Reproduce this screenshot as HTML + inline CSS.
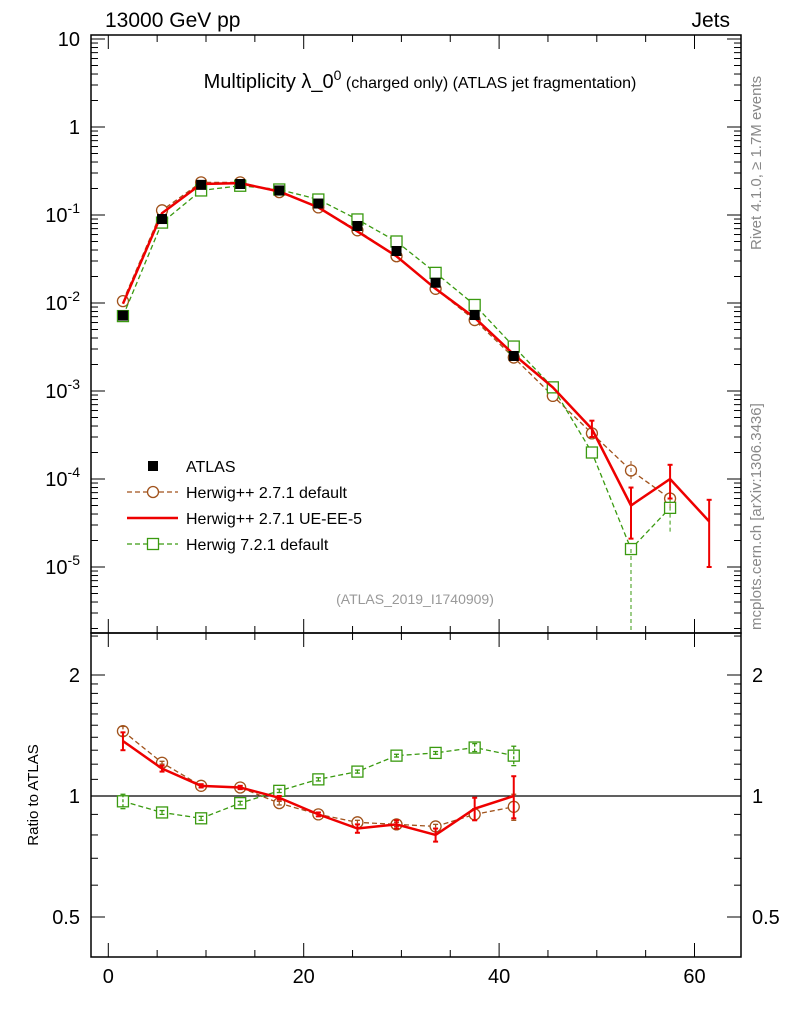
<!DOCTYPE html>
<html><head><meta charset="utf-8">
<style>
body{margin:0;background:#fff;}
svg{display:block;font-family:"Liberation Sans",sans-serif;}
</style></head>
<body>
<svg id="c" width="786" height="1024" xmlns="http://www.w3.org/2000/svg">
<text x="105" y="27" font-size="21">13000 GeV pp</text>
<text x="730" y="27" font-size="21" text-anchor="end">Jets</text>
<text x="420" y="88" font-size="20" text-anchor="middle">Multiplicity λ_0<tspan dy="-8" font-size="14">0</tspan><tspan dy="8" font-size="16"> (charged only) (ATLAS jet fragmentation)</tspan></text>
<text transform="translate(761,250) rotate(-90)" font-size="15" fill="#888">Rivet 4.1.0, ≥ 1.7M events</text>
<text transform="translate(761,630) rotate(-90)" font-size="15" fill="#888">mcplots.cern.ch [arXiv:1306.3436]</text>
<text x="415" y="604" font-size="14" fill="#999" text-anchor="middle">(ATLAS_2019_I1740909)</text>
<text transform="translate(38,795) rotate(-90)" font-size="15" text-anchor="middle">Ratio to ATLAS</text>
<g id="g"></g>
</svg>
<script>
const xs=[1.5,5.5,9.5,13.5,17.5,21.5,25.5,29.5,33.5,37.5,41.5,45.5,49.5,53.5,57.5,61.5];
const atlas=[0.0072,0.09,0.22,0.225,0.19,0.135,0.075,0.039,0.017,0.0073,0.0025];
const brown=[0.0105,0.113,0.235,0.235,0.182,0.122,0.067,0.034,0.0145,0.0064,0.0024,0.00088,0.00033,0.000125,0.00006];
const red=[0.0098,0.105,0.225,0.23,0.185,0.122,0.065,0.034,0.0145,0.0068,0.0026,0.0011,0.00037,0.00005,0.0001,0.000033];
const green=[0.0071,0.082,0.19,0.215,0.195,0.15,0.089,0.05,0.022,0.0095,0.0032,0.0011,0.0002,0.000016,0.000047];
const brownR=[1.45,1.21,1.06,1.05,0.96,0.90,0.86,0.85,0.84,0.90,0.94];
const redR=[1.37,1.17,1.06,1.05,0.99,0.90,0.83,0.85,0.80,0.93,1.0];
const greenR=[0.97,0.91,0.88,0.96,1.03,1.10,1.15,1.26,1.28,1.32,1.26];
const redRerr=[0.07,0.02,0.01,0.01,0.01,0.01,0.02,0.02,0.03,0.06,0.12];
const greenRerr=[0.04,0.01,0.01,0.01,0.01,0.01,0.01,0.01,0.01,0.03,0.07];
const xTicks=[0,20,40,60];
const yTicks=["10^-5","10^-4","10^-3","10^-2","10^-1","1","10"];
const rTicks=[0.5,1,2];

const NS="http://www.w3.org/2000/svg",G=document.getElementById('g');
function el(t,a,p){const e=document.createElementNS(NS,t);for(const k in a)e.setAttribute(k,a[k]);(p||G).appendChild(e);return e;}
const L=91,R=741,T=35,M=633,B=957;
const X=v=>108.3+9.77*v;
const Y=v=>303-88*(Math.log10(v)+2);
const YR=v=>796-121*Math.log2(v);
let f=el('rect',{x:L,y:T,width:R-L,height:M-T,fill:'none',stroke:'#000','stroke-width':1.5});

f=el('rect',{x:L,y:M,width:R-L,height:B-M,fill:'none',stroke:'#000','stroke-width':1.5});

for(let v=0;v<=70;v+=5){const x=X(v);if(x>R)break;const len=v%20==0?14:7;
 el('line',{x1:x,x2:x,y1:M,y2:M-len,stroke:'#000'});el('line',{x1:x,x2:x,y1:T,y2:T+len,stroke:'#000'});
 el('line',{x1:x,x2:x,y1:B,y2:B-len,stroke:'#000'});el('line',{x1:x,x2:x,y1:M,y2:M+len,stroke:'#000'});}
xTicks.forEach(v=>{const t=el('text',{x:X(v),y:983,'font-size':20,'text-anchor':'middle'});t.textContent=v;
 });
for(let d=-6;d<=1;d++)for(let m=1;m<10;m++){const v=m*Math.pow(10,d);const y=Y(v);if(y<T||y>M)continue;
 const len=m==1?14:7;el('line',{x1:L,x2:L+len,y1:y,y2:y,stroke:'#000'});el('line',{x1:R,x2:R-len,y1:y,y2:y,stroke:'#000'});}
yTicks.forEach((s,i)=>{const y=Y(Math.pow(10,i-5));const t=el('text',{x:80,y:y+7,'font-size':20,'text-anchor':'end'});
 if(s.includes('^')){const p=s.split('^');t.textContent=p[0];const ts=el('tspan',{dy:-9,'font-size':14},t);ts.textContent=p[1];}else t.textContent=s;
 });
[0.5,0.6,0.7,0.8,0.9,1,1.1,1.2,1.3,1.4,1.5,1.6,1.7,1.8,1.9,2,2.5].forEach(v=>{const y=YR(v);if(y<M||y>B)return;
 const len=rTicks.includes(v)?14:7;el('line',{x1:L,x2:L+len,y1:y,y2:y,stroke:'#000'});el('line',{x1:R,x2:R-len,y1:y,y2:y,stroke:'#000'});});
rTicks.forEach(v=>{[[80,'end'],[752,'start']].forEach(([x,a])=>{const t=el('text',{x:x,y:YR(v)+7,'font-size':20,'text-anchor':a});t.textContent=v;
 });});
el('line',{x1:L,x2:R,y1:YR(1),y2:YR(1),stroke:'#000','stroke-width':1.2});
function clipY(y,lo,hi){return Math.max(lo,Math.min(hi,y));}
function series(vals,yf,col,dash,w,mk,name,lo,hi){
 const pts=vals.map((v,i)=>X(xs[i])+','+clipY(yf(v),lo,hi)).join(' ');
 const pl=el('polyline',{points:pts,fill:'none',stroke:col,'stroke-width':w,'stroke-dasharray':dash});
 
 vals.forEach((v,i)=>{const x=X(xs[i]),y=yf(v);if(y>hi)return;let m;
  if(mk=='c')m=el('circle',{cx:x,cy:y,r:5.5,fill:'#fff',stroke:col,'stroke-width':1.3});
  else if(mk=='s')m=el('rect',{x:x-5.5,y:y-5.5,width:11,height:11,fill:'#fff',stroke:col,'stroke-width':1.3});
  else return;
  });
}
function errs(vals,e,col,w,dash){vals.forEach((v,i)=>{if(e[i]===undefined)return;const x=X(xs[i]);
 el('line',{x1:x,x2:x,y1:YR(v+e[i]),y2:YR(v-e[i]),stroke:col,'stroke-width':w,'stroke-dasharray':dash});
 [v+e[i],v-e[i]].forEach(u=>el('line',{x1:x-2.5,x2:x+2.5,y1:YR(u),y2:YR(u),stroke:col,'stroke-width':w}));});}
series(brown,Y,'#a0521b','5,3',1.3,'c','herwigpp-default',T,M);
series(green,Y,'#3a9a10','5,3',1.3,'s','herwig7-default',T,M);
el('line',{x1:X(53.5),x2:X(53.5),y1:Y(0.000016),y2:M,stroke:'#3a9a10','stroke-dasharray':'4,3'});
[[53.5,0.00016,0.0001],[57.5,0.000075,0.000045]].forEach(e=>el('line',{x1:X(e[0]),x2:X(e[0]),y1:Y(e[1]),y2:Y(e[2]),stroke:'#a0521b','stroke-dasharray':'4,3'}));
[[57.5,0.00007,0.000025]].forEach(e=>el('line',{x1:X(e[0]),x2:X(e[0]),y1:Y(e[1]),y2:Y(e[2]),stroke:'#3a9a10','stroke-dasharray':'4,3'}));
series(red,Y,'#e00','',2.5,'','herwigpp-ue-ee-5',T,M);
[[49.5,0.00046,0.0003],[53.5,0.00008,0.000021],[57.5,0.000145,0.00006],[61.5,0.000058,0.00001]].forEach(e=>{
 el('line',{x1:X(e[0]),x2:X(e[0]),y1:Y(e[1]),y2:Y(e[2]),stroke:'#e00','stroke-width':2});
 [e[1],e[2]].forEach(u=>el('line',{x1:X(e[0])-2.5,x2:X(e[0])+2.5,y1:Y(u),y2:Y(u),stroke:'#e00','stroke-width':2}));});
atlas.forEach((v,i)=>{const r=el('rect',{x:X(xs[i])-5,y:Y(v)-5,width:10,height:10,fill:'#000'});
 });
series(brownR,YR,'#a0521b','5,3',1.3,'c','ratio-herwigpp-default',M,B);
errs(brownR,greenRerr,'#a0521b',1.3,'3,2');
series(greenR,YR,'#3a9a10','5,3',1.3,'s','ratio-herwig7-default',M,B);
errs(greenR,greenRerr,'#3a9a10',1.3,'3,2');
series(redR,YR,'#e00','',2.5,'','ratio-herwigpp-ue-ee-5',M,B);
errs(redR,redRerr,'#e00',2,'');
const lg=[['ATLAS','',''],['Herwig++ 2.7.1 default','#a0521b','c'],['Herwig++ 2.7.1 UE-EE-5','#e00','l'],['Herwig 7.2.1 default','#3a9a10','s']];
lg.forEach((e,i)=>{const y=466+i*26;
 if(i==0){el('rect',{x:148,y:y-5,width:10,height:10,fill:'#000'});}
 else{el('line',{x1:127,x2:178,y1:y,y2:y,stroke:e[1],'stroke-width':e[2]=='l'?2.5:1.3,'stroke-dasharray':e[2]=='l'?'':'5,3'});
  if(e[2]=='c')el('circle',{cx:153,cy:y,r:5.5,fill:'#fff',stroke:e[1],'stroke-width':1.3});
  if(e[2]=='s')el('rect',{x:147.5,y:y-5.5,width:11,height:11,fill:'#fff',stroke:e[1],'stroke-width':1.3});}
 const t=el('text',{x:186,y:y+6,'font-size':16});t.textContent=e[0];
 });
</script>
</body></html>
